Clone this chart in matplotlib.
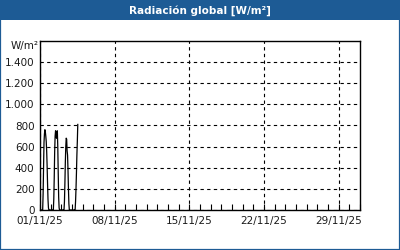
import matplotlib
matplotlib.use("Agg")
import matplotlib.pyplot as plt
import matplotlib.dates as mdates
import numpy as np
import pandas as pd

title = "Radiación global [W/m²]"
unit_label = "W/m²"

# hourly global radiation (W/m²), days 01/11 - 04/11 (last day partial)
day1 = [0, 0, 0, 0, 0, 0, 0, 150, 400, 640, 720, 760, 740, 700, 650, 560, 420, 250, 100, 20, 0, 0, 0, 0]
day2 = [0, 0, 0, 0, 0, 0, 0, 100, 300, 550, 700, 750, 720, 680, 740, 750, 600, 350, 120, 20, 0, 0, 0, 0]
day3 = [0, 0, 0, 0, 0, 0, 0, 80, 250, 450, 600, 680, 670, 560, 520, 380, 200, 60, 0, 0, 0, 0, 0, 0]
day4 = [0, 0, 0, 0, 0, 0, 0, 0, 80, 200, 350, 520, 650, 810]
radiation = day1 + day2 + day3 + day4
start_time = "2025-11-01 00:00"

x_ticks = ["2025-11-01", "2025-11-08", "2025-11-15", "2025-11-22", "2025-11-29"]
x_labels = ["01/11/25", "08/11/25", "15/11/25", "22/11/25", "29/11/25"]
x_range = ["2025-11-01", "2025-12-01"]
y_ticks = [0, 200, 400, 600, 800, 1000, 1200, 1400]
y_labels = ["0", "200", "400", "600", "800", "1.000", "1.200", "1.400"]
y_max = 1600

times = pd.date_range(start_time, periods=len(radiation), freq="h")

blue = "#1d5b95"
fig = plt.figure(figsize=(4, 2.5), dpi=100, facecolor="white")

# title bar and frame
fig.patches.append(plt.Rectangle((0, 1 - 20 / 250), 1, 20 / 250, transform=fig.transFigure,
                                 facecolor=blue, edgecolor="none", zorder=0))
fig.patches.append(plt.Rectangle((0, 0), 1, 1, transform=fig.transFigure,
                                 facecolor="none", edgecolor=blue, linewidth=1.6, zorder=1))
fig.text(0.5, 1 - 10.5 / 250, title, color="white", fontsize=7.5, fontweight="bold",
         ha="center", va="center", family="DejaVu Sans")

ax = fig.add_axes([40 / 400, 40 / 250, 320 / 400, 169 / 250])
ax.set_facecolor("white")
ax.plot(times, radiation, color="black", linewidth=0.9)

ax.set_xlim(pd.Timestamp(x_range[0]), pd.Timestamp(x_range[1]))
ax.set_ylim(0, y_max)

ax.set_xticks([pd.Timestamp(t) for t in x_ticks])
ax.set_xticklabels(x_labels)
ax.xaxis.set_minor_locator(mdates.DayLocator())
ax.set_yticks(y_ticks)
ax.set_yticklabels(y_labels)

ax.tick_params(axis="x", which="both", direction="in", length=4, width=0.8, pad=4,
               labelsize=7.5, colors="black")
ax.tick_params(axis="y", which="both", length=0, pad=4, labelsize=7.5, colors="black")
for lbl in ax.get_xticklabels() + ax.get_yticklabels():
    lbl.set_color("#1a1a1a")

ax.grid(True, which="major", color="black", linestyle=(0, (3, 3)), linewidth=0.8)
for s in ax.spines.values():
    s.set_color("black")
    s.set_linewidth(1.0)

ax.text(-0.005, 1.0, unit_label, transform=ax.transAxes, ha="right", va="top",
        fontsize=7.5, color="#1a1a1a")

fig.savefig("out.png", dpi=100, facecolor="white")
